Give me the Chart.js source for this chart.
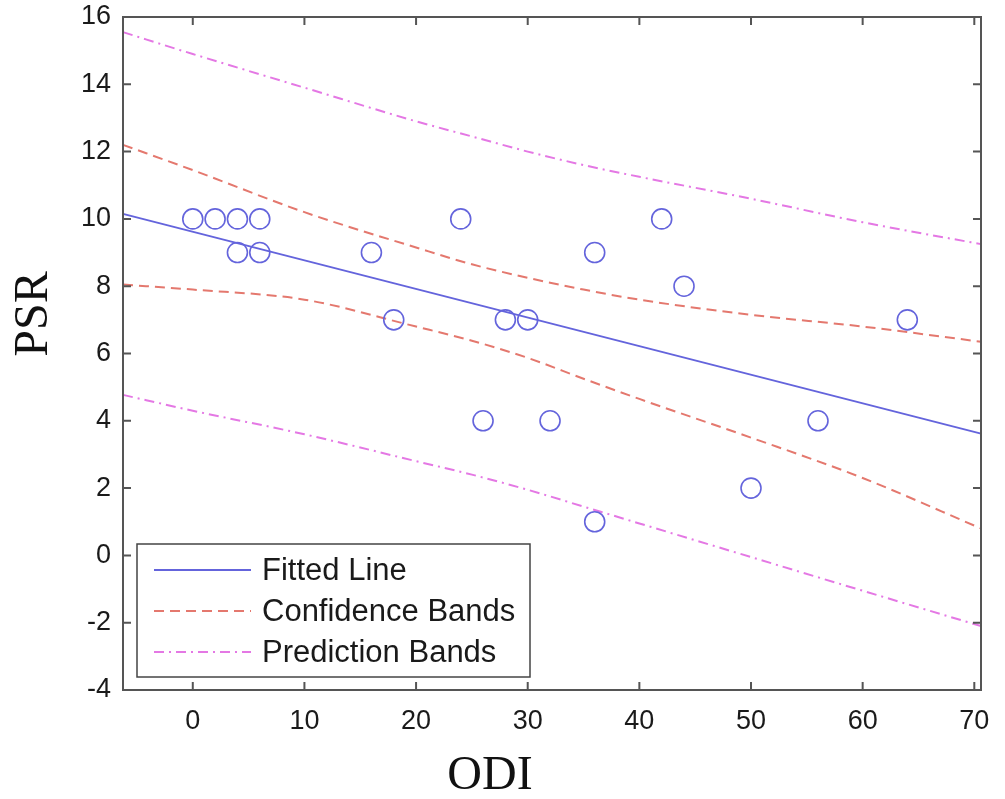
<!DOCTYPE html>
<html>
<head>
<meta charset="utf-8">
<script src="https://cdn.jsdelivr.net/npm/chart.js@4"></script>
<style>
  html, body { margin: 0; padding: 0; background: #fff; }
  #wrap { width: 1005px; height: 799px; }
</style>
</head>
<body>
<div id="wrap"><canvas id="canvas" width="1005" height="799"></canvas></div>
<script>
  // observed data (ODI vs PSR)
  var odi = [0, 2, 4, 6, 4, 6, 16, 18, 24, 26, 28, 30, 32, 36, 36, 42, 44, 50, 56, 64];
  var psr = [10, 10, 10, 10, 9, 9, 9, 7, 10, 4, 7, 7, 4, 9, 1, 10, 8, 2, 4, 7];

  // fitted line, read at the two plot edges
  var fitX = [-6.25, 70.6];
  var fitY = [10.15, 3.62];

  // band curves
  var bandX = [-6.25, 0, 10, 20, 25, 30, 35, 40, 50, 60, 70.6];
  var confUpper = [12.2, 11.45, 10.2, 9.15, 8.65, 8.25, 7.9, 7.6, 7.15, 6.8, 6.35];
  var confLower = [8.05, 7.9, 7.6, 6.8, 6.38, 5.87, 5.25, 4.65, 3.5, 2.3, 0.8];
  var predUpper = [15.55, 14.9, 13.9, 12.9, 12.45, 12.0, 11.6, 11.25, 10.6, 9.9, 9.25];
  var predLower = [4.77, 4.3, 3.6, 2.8, 2.4, 1.95, 1.45, 0.95, -0.05, -1.05, -2.1];

  var xTicks = [0, 10, 20, 30, 40, 50, 60, 70];
  var yTicks = [-4, -2, 0, 2, 4, 6, 8, 10, 12, 14, 16];

  var blue = 'rgb(100,100,220)';
  var red = 'rgb(228,120,110)';
  var pink = 'rgb(228,120,228)';

  function pts(xs, ys)
  {
    var out = [];
    for (var i = 0; i < xs.length; i++)
      out.push({x: xs[i], y: ys[i]});
    return out;
  }

  var legendItems = [
    {text: 'Fitted Line', color: blue, dash: []},
    {text: 'Confidence Bands', color: red, dash: [10, 6]},
    {text: 'Prediction Bands', color: pink, dash: [10, 5, 2, 5]}
  ];

  //box, inward ticks, axis titles and legend
  var framePlugin = {
    id: 'frame',
    afterDraw: function(chart)
    {
      var ctx = chart.ctx;
      var a = chart.chartArea;
      var xs = chart.scales.x, ys = chart.scales.y;
      ctx.save();
      ctx.strokeStyle = '#555';
      ctx.lineWidth = 2;
      ctx.strokeRect(a.left, a.top, a.right - a.left, a.bottom - a.top);
      ctx.beginPath();
      xTicks.forEach(function(v) {
        var p = xs.getPixelForValue(v);
        ctx.moveTo(p, a.bottom); ctx.lineTo(p, a.bottom - 8);
        ctx.moveTo(p, a.top); ctx.lineTo(p, a.top + 8);
      });
      yTicks.forEach(function(v) {
        var p = ys.getPixelForValue(v);
        ctx.moveTo(a.left, p); ctx.lineTo(a.left + 8, p);
        ctx.moveTo(a.right, p); ctx.lineTo(a.right - 8, p);
      });
      ctx.stroke();

      // axis titles
      ctx.fillStyle = '#111';
      ctx.font = '48px "Liberation Serif", "Times New Roman", serif';
      ctx.textAlign = 'center';
      ctx.textBaseline = 'middle';
      ctx.fillText('ODI', 490, 776);
      ctx.translate(34, 314);
      ctx.rotate(-Math.PI / 2);
      ctx.fillText('PSR', 0, 0);
      ctx.restore();

      // legend box
      ctx.save();
      var lx = 137, ly = 544, lw = 393, lh = 133;
      ctx.fillStyle = '#fff';
      ctx.fillRect(lx, ly, lw, lh);
      ctx.strokeStyle = '#444';
      ctx.lineWidth = 1.5;
      ctx.strokeRect(lx, ly, lw, lh);
      ctx.font = '31px "Liberation Sans", Arial, sans-serif';
      ctx.textBaseline = 'middle';
      ctx.textAlign = 'left';
      legendItems.forEach(function(it, i) {
        var y = 570 + i * 41;
        ctx.strokeStyle = it.color;
        ctx.lineWidth = 2;
        ctx.setLineDash(it.dash);
        ctx.beginPath();
        ctx.moveTo(154, y); ctx.lineTo(251, y);
        ctx.stroke();
        ctx.setLineDash([]);
        ctx.fillStyle = '#1a1a1a';
        ctx.fillText(it.text, 262, y + 1);
      });
      ctx.restore();
    }
  };

  var tickFont = { family: '"Liberation Sans", Arial, sans-serif', size: 27 };

  var ctx = document.getElementById('canvas').getContext('2d');
  window.myChart = new Chart(ctx, {
    type: 'scatter',
    data: {
      datasets: [
        {
          label: 'Data',
          data: pts(odi, psr),
          pointStyle: 'circle',
          pointRadius: 10,
          pointBorderWidth: 1.6,
          borderColor: blue,
          backgroundColor: 'rgba(0,0,0,0)'
        },
        {
          label: 'Fitted Line',
          type: 'line',
          data: pts(fitX, fitY),
          borderColor: blue,
          borderWidth: 1.8,
          pointRadius: 0
        },
        {
          label: 'Confidence Upper',
          type: 'line',
          data: pts(bandX, confUpper),
          borderColor: red,
          borderWidth: 2,
          borderDash: [10, 6],
          pointRadius: 0,
          cubicInterpolationMode: 'monotone'
        },
        {
          label: 'Confidence Lower',
          type: 'line',
          data: pts(bandX, confLower),
          borderColor: red,
          borderWidth: 2,
          borderDash: [10, 6],
          pointRadius: 0,
          cubicInterpolationMode: 'monotone'
        },
        {
          label: 'Prediction Upper',
          type: 'line',
          data: pts(bandX, predUpper),
          borderColor: pink,
          borderWidth: 2,
          borderDash: [10, 5, 2, 5],
          pointRadius: 0,
          cubicInterpolationMode: 'monotone'
        },
        {
          label: 'Prediction Lower',
          type: 'line',
          data: pts(bandX, predLower),
          borderColor: pink,
          borderWidth: 2,
          borderDash: [10, 5, 2, 5],
          pointRadius: 0,
          cubicInterpolationMode: 'monotone'
        }
      ]
    },
    options: {
      responsive: false,
      animation: false,
      clip: false,
      layout: { padding: { top: 17, right: 24, left: 0, bottom: 0 } },
      plugins: {
        legend: { display: false },
        tooltip: { enabled: false }
      },
      scales: {
        x: {
          type: 'linear',
          min: -6.25,
          max: 70.6,
          afterBuildTicks: function(scale) {
            scale.ticks = xTicks.map(function(v) { return {value: v}; });
          },
          afterFit: function(scale) {
            scale.height = 109;
            scale.paddingLeft = 0;
            scale.paddingRight = 0;
          },
          grid: { display: false, drawTicks: false },
          border: { display: false },
          ticks: {
            padding: 15,
            color: '#1a1a1a',
            font: tickFont
          }
        },
        y: {
          type: 'linear',
          min: -4,
          max: 16,
          afterBuildTicks: function(scale) {
            scale.ticks = yTicks.map(function(v) { return {value: v}; });
          },
          afterFit: function(scale) {
            scale.width = 123;
            scale.paddingTop = 0;
            scale.paddingBottom = 0;
          },
          grid: { display: false, drawTicks: false },
          border: { display: false },
          ticks: {
            padding: 12,
            color: '#1a1a1a',
            font: tickFont
          }
        }
      }
    },
    plugins: [framePlugin]
  });
</script>
</body>
</html>
